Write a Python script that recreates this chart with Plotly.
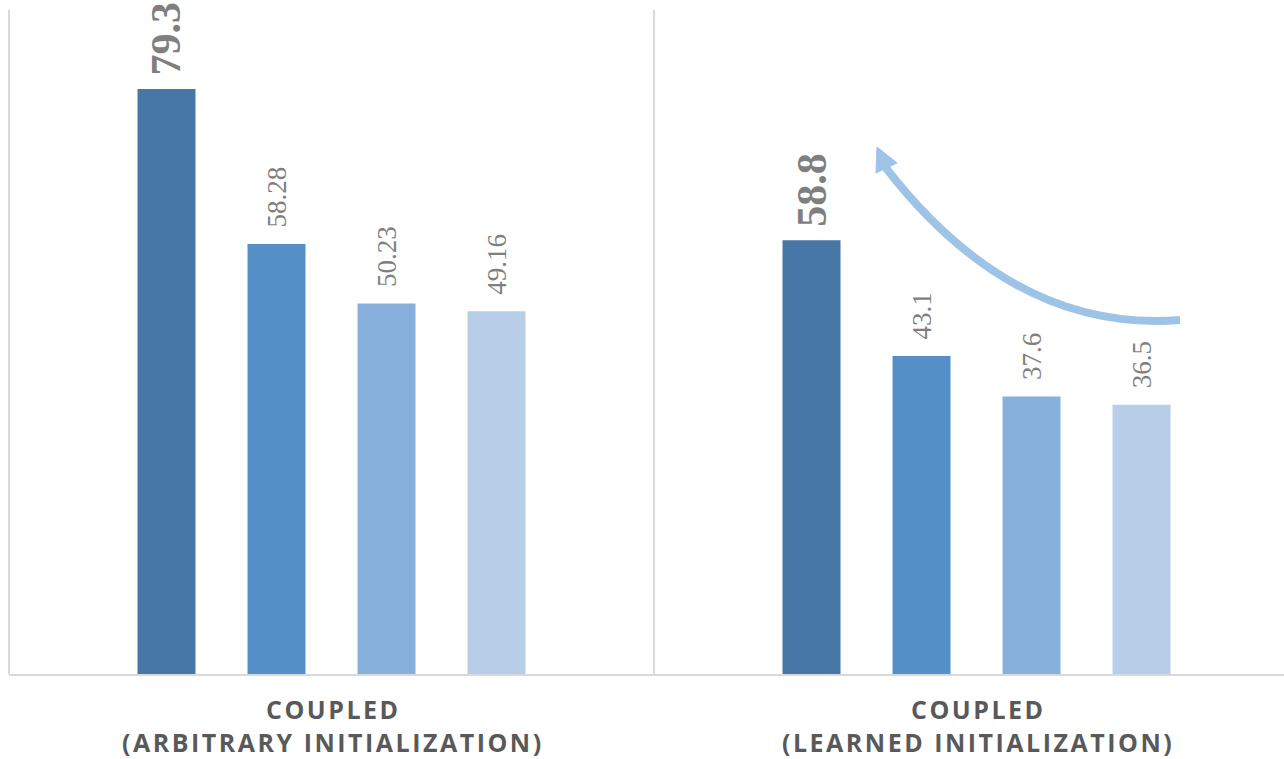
import plotly.graph_objects as go

# Two training setups on the category axis (two-line labels)
groups = ["COUPLED\n(ARBITRARY INITIALIZATION)", "COUPLED\n(LEARNED INITIALIZATION)"]

# Four series per setup, dark to light
series_1 = [79.3, 58.8]
series_2 = [58.28, 43.1]
series_3 = [50.23, 37.6]
series_4 = [49.16, 36.5]

series = [series_1, series_2, series_3, series_4]
colors = ["#4677A6", "#5490C7", "#87B0DD", "#B7CDE8"]

NBSP = "\u00a0"
HAIR = "\u200a"
GRID = "#D9D9D9"
LABEL_GREY = "#595959"


def spaced(line):
    # letter-spaced label line
    return HAIR.join(line)


fig = go.Figure()
for i, (vals, col) in enumerate(zip(series, colors)):
    bold = i == 0
    pad = NBSP if bold else NBSP * 2
    font = dict(
        family="Liberation Serif, Times New Roman, serif",
        size=42 if bold else 27,
        color="#7F7F7F",
        weight=700 if bold else 400,
    )
    fig.add_trace(go.Bar(
        x=groups,
        y=vals,
        marker=dict(color=col, line=dict(width=0)),
        text=[pad + f"{v:g}" for v in vals],
        textposition="outside",
        textangle=-90,
        constraintext="none",
        cliponaxis=False,
        textfont=font,
        outsidetextfont=font,
        hoverinfo="skip",
        showlegend=False,
    ))

# category labels, one annotation per line
for g in groups:
    for k, line in enumerate(g.split("\n")):
        fig.add_annotation(
            x=g, y=0, xref="x", yref="y",
            text=spaced(line),
            showarrow=False,
            yanchor="middle",
            yshift=-35 - 33 * k,
            font=dict(family="Open Sans", size=25, color=LABEL_GREY, weight="bold"),
        )

# left border of the first category
fig.add_shape(
    type="line", xref="paper", yref="paper",
    x0=0, x1=0, y0=0, y1=1,
    line=dict(color=GRID, width=2),
)

# curved arrow over the second setup
arrow_col = "#9DC3E6"
fig.add_shape(
    type="path",
    xref="paper", yref="paper",
    path="M 0.9184,0.5331 Q 0.7882,0.5136 0.6878,0.7620",
    line=dict(color=arrow_col, width=8),
    fillcolor="rgba(0,0,0,0)",
)
fig.add_shape(
    type="path",
    xref="paper", yref="paper",
    path="M 0.6808,0.7937 L 0.6800,0.7545 L 0.6965,0.7696 Z",
    line=dict(color=arrow_col, width=1),
    fillcolor=arrow_col,
)

fig.update_layout(
    width=1284,
    height=759,
    margin=dict(l=9, r=0, t=10, b=85),
    paper_bgcolor="white",
    plot_bgcolor="white",
    barmode="group",
    bargap=0.3178,
    bargroupgap=0.473,
    xaxis=dict(
        type="category",
        range=[-0.5, 1.4767],
        showticklabels=False,
        tickson="boundaries",
        ticks="",
        showgrid=True,
        gridcolor=GRID,
        gridwidth=2,
        showline=True,
        linecolor=GRID,
        linewidth=2,
    ),
    yaxis=dict(
        range=[0, 90],
        showgrid=False,
        showticklabels=False,
        zeroline=False,
        showline=False,
        ticks="",
    ),
)

fig.write_html("out.html")
